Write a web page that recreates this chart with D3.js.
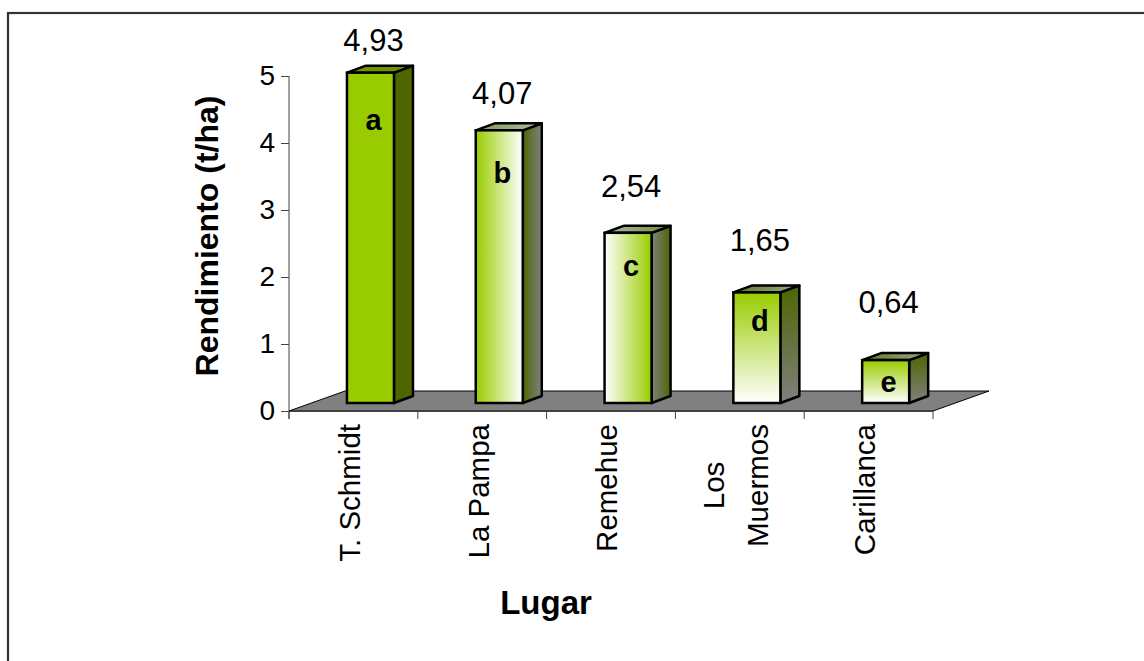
<!DOCTYPE html>
<html>
<head>
<meta charset="utf-8">
<script src="https://cdn.jsdelivr.net/npm/d3@7"></script>
<style>
  body { margin: 0; background: #fff; }
  svg { display: block; font-family: 'Liberation Sans', Arial, sans-serif; }
</style>
</head>
<body>
<div id="chart"></div>
<script>
const lugares = ['T. Schmidt', 'La Pampa', 'Remehue', 'Los\nMuermos', 'Carillanca']
const rendimiento = [4.93, 4.07, 2.54, 1.65, 0.64]
const letras = ['a', 'b', 'c', 'd', 'e']
const yTicks = [0, 1, 2, 3, 4, 5]

const width = 1144
const height = 661

// fill style per bar: solid, horizontal, horizontal reversed, vertical
const fillTypes = ['solid', 'h', 'hr', 'v', 'v']
const green = '#99cc00'
const darkGreen = '#4d6600'
const grey = '#808080'

// 3d geometry
const floorDepth = { dx: 56, dy: -20 }
const barDepth = { dx: 19, dy: -7 }
const barShift = { dx: 0, dy: -8 }

const svg = d3
  .select('#chart')
  .append('svg')
  .attr('width', width)
  .attr('height', height)

svg
  .append('rect')
  .attr('x', 8)
  .attr('y', 13)
  .attr('width', width + 10)
  .attr('height', height + 10)
  .attr('fill', '#fff')
  .attr('stroke', '#333')
  .attr('stroke-width', 2.2)

const x = d3
  .scaleBand()
  .domain(lugares)
  .range([289, 933])
  .paddingInner(0)
  .paddingOuter(0)

const y = d3
  .scaleLinear()
  .domain([0, 5])
  .range([411, 76])

// excel places the data labels on its own scale
const labelY = d3
  .scaleLinear()
  .domain([0, 5])
  .range([341, 36])

const defs = svg.append('defs')

function grad(id, vertical, stops) {
  const g = defs
    .append('linearGradient')
    .attr('id', id)
    .attr('x1', 0)
    .attr('y1', 0)
    .attr('x2', vertical ? 0 : 1)
    .attr('y2', vertical ? 1 : 0)
  stops.forEach((c, i) =>
    g
      .append('stop')
      .attr('offset', i / (stops.length - 1))
      .attr('stop-color', c)
  )
}

grad('front-h', false, [green, '#ffffff'])
grad('front-hr', false, ['#ffffff', green])
grad('front-v', true, [green, '#ffffff'])
grad('side-h', false, [darkGreen, grey])
grad('side-hr', false, [grey, darkGreen])
grad('side-v', true, [darkGreen, grey])
grad('top-h', false, ['#7d9a50', '#b4bca8'])
grad('top-hr', false, ['#b4bca8', '#6d8a30'])
grad('top-v', false, ['#5d7a20', '#9aa890'])

function faceFill(type, face) {
  if (type === 'solid') {
    return face === 'front' ? green : face === 'side' ? darkGreen : '#6f9400'
  }
  return `url(#${face}-${type})`
}

// floor
const x0 = x.range()[0]
const x1 = x.range()[1]
const y0 = y(0)
svg
  .append('path')
  .attr(
    'd',
    d3.line()([
      [x0, y0],
      [x1, y0],
      [x1 + floorDepth.dx, y0 + floorDepth.dy],
      [x0 + floorDepth.dx, y0 + floorDepth.dy]
    ]) + 'Z'
  )
  .attr('fill', grey)
  .attr('stroke', '#000')
  .attr('stroke-width', 1)

// y axis
const yAxis = svg
  .append('g')
  .attr('transform', `translate(${x0},0)`)
  .call(
    d3
      .axisLeft(y)
      .tickValues(yTicks)
      .tickFormat(d3.format('d'))
      .tickSize(8)
      .tickPadding(6)
  )
yAxis.select('.domain').attr('d', `M0,${y(5)}V${y0 + 8}`).attr('stroke', '#444')
yAxis.selectAll('.tick line').attr('stroke', '#444')
yAxis
  .selectAll('text')
  .style('font-size', '28px')
  .style('font-family', "'Liberation Sans', Arial, sans-serif")
  .attr('fill', '#000')

// x axis
const xAxis = svg
  .append('g')
  .attr('transform', `translate(0,${y0})`)
  .call(
    d3
      .axisBottom(x)
      .tickSize(0)
      .tickFormat('')
  )
xAxis.select('.domain').attr('stroke', '#444')
xAxis
  .selectAll('.xtick')
  .data(d3.range(lugares.length + 1))
  .join('line')
  .attr('x1', i => x0 + i * x.bandwidth())
  .attr('x2', i => x0 + i * x.bandwidth())
  .attr('y1', 0)
  .attr('y2', 8)
  .attr('stroke', '#444')

// category labels, lines centred on each other, longest line ends under the axis
const catLabels = svg
  .append('g')
  .selectAll('g')
  .data(lugares)
  .join('g')
  .attr('transform', d => `translate(${x(d) + x.bandwidth() / 2 - 4},424) rotate(-90)`)

catLabels.each(function(d) {
  const lines = d.split('\n')
  const lh = 44
  const start = -((lines.length - 1) * lh) / 2
  const texts = d3
    .select(this)
    .selectAll('text')
    .data(lines)
    .join('text')
    .attr('y', (l, i) => start + i * lh)
    .attr('dy', '0.35em')
    .attr('text-anchor', 'middle')
    .style('font-size', '29.5px')
    .text(l => l)
  const maxLen = d3.max(texts.nodes(), n => n.getComputedTextLength())
  texts.attr('x', -maxLen / 2)
})

// bars
const bars = svg
  .append('g')
  .selectAll('g')
  .data(lugares.map((l, i) => ({ lugar: l, value: rendimiento[i], letra: letras[i], type: fillTypes[i] })))
  .join('g')

const bw = x.bandwidth() * 0.365
const bx = d => x(d.lugar) + x.bandwidth() * 0.45 + barShift.dx
const by0 = y0 + barShift.dy
const byTop = d => y(d.value) + barShift.dy

bars
  .append('path')
  .attr('d', d => {
    const l = bx(d)
    const r = l + bw
    const t = byTop(d)
    return (
      d3.line()([
        [r, t],
        [r + barDepth.dx, t + barDepth.dy],
        [r + barDepth.dx, by0 + barDepth.dy],
        [r, by0]
      ]) + 'Z'
    )
  })
  .attr('fill', d => faceFill(d.type, 'side'))
  .attr('stroke', '#000')
  .attr('stroke-width', 2.5)
  .attr('stroke-linejoin', 'round')

bars
  .append('path')
  .attr('d', d => {
    const l = bx(d)
    const r = l + bw
    const t = byTop(d)
    return (
      d3.line()([
        [l, t],
        [r, t],
        [r + barDepth.dx, t + barDepth.dy],
        [l + barDepth.dx, t + barDepth.dy]
      ]) + 'Z'
    )
  })
  .attr('fill', d => faceFill(d.type, 'top'))
  .attr('stroke', '#000')
  .attr('stroke-width', 2.5)
  .attr('stroke-linejoin', 'round')

bars
  .append('rect')
  .attr('x', bx)
  .attr('y', byTop)
  .attr('width', bw)
  .attr('height', d => by0 - byTop(d))
  .attr('fill', d => faceFill(d.type, 'front'))
  .attr('stroke', '#000')
  .attr('stroke-width', 2.5)

// value labels
bars
  .append('text')
  .attr('x', d => bx(d) + bw / 2 + 3)
  .attr('y', d => labelY(d.value))
  .attr('dy', '0.35em')
  .attr('text-anchor', 'middle')
  .style('font-size', '31px')
  .text(d => d3.format('.2f')(d.value).replace('.', ','))

// letters
bars
  .append('text')
  .attr('x', d => bx(d) + bw / 2 + 3)
  .attr('y', d => labelY(d.value) + 80)
  .attr('dy', '0.35em')
  .attr('text-anchor', 'middle')
  .style('font-size', '29px')
  .style('font-weight', 'bold')
  .text(d => d.letra)

// axis titles
svg
  .append('text')
  .attr('transform', 'translate(207,236) rotate(-90)')
  .attr('text-anchor', 'middle')
  .attr('dy', '0.35em')
  .style('font-size', '32px')
  .style('font-weight', 'bold')
  .text('Rendimiento (t/ha)')

svg
  .append('text')
  .attr('x', 546)
  .attr('y', 602)
  .attr('dy', '0.35em')
  .attr('text-anchor', 'middle')
  .style('font-size', '33px')
  .style('font-weight', 'bold')
  .text('Lugar')
</script>
</body>
</html>
